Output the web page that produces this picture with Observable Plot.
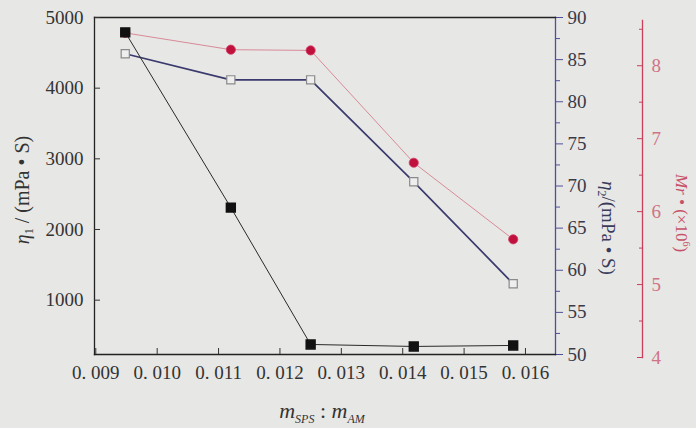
<!DOCTYPE html>
<html>
<head>
<meta charset="utf-8">
<script src="https://cdn.jsdelivr.net/npm/d3@7"></script>
<script src="https://cdn.jsdelivr.net/npm/@observablehq/plot@0.6"></script>
<style>
  html, body { margin: 0; padding: 0; background: #e7e7e5; }
  #wrap { position: relative; width: 696px; height: 428px; background: #e7e7e5; overflow: hidden; }
  #wrap svg { position: absolute; left: 0; top: 0; }
  #wrap svg, #wrap svg text, #wrap svg g { font-family: "Liberation Serif", "Times New Roman", "DejaVu Serif", serif !important; }
</style>
</head>
<body>
<div id="wrap"></div>
<script>
// ---- data ----
const ratio = [0.00948, 0.0112, 0.0125, 0.01418, 0.0158];          // m_SPS : m_AM
const eta1  = [4790, 2310, 373, 345, 359];                          // η1 (mPa·S)
const eta2  = [85.7, 82.6, 82.6, 70.5, 58.4];                       // η2 (mPa·S)
const mr    = [8.45, 8.22, 8.21, 6.67, 5.62];                       // Mr (×10^6)

const xTicks    = [0.009, 0.010, 0.011, 0.012, 0.013, 0.014, 0.015, 0.016];
const eta1Ticks = [1000, 2000, 3000, 4000, 5000];
const eta2Ticks = [50, 55, 60, 65, 70, 75, 80, 85, 90];
const eta2Minor = [52.5, 57.5, 62.5, 67.5, 72.5, 77.5, 82.5, 87.5];
const mrTicks   = [4, 5, 6, 7, 8];
const mrMinor   = [4.5, 5.5, 6.5, 7.5, 8.5];

const rows = ratio.map((r, i) => ({ratio: r, eta1: eta1[i], eta2: eta2[i], mr: mr[i]}));

const W = 696, H = 428;
const serif = "'Liberation Serif', 'Times New Roman', 'DejaVu Serif', serif";
const common = {
  width: W, height: H,
  marginLeft: 94, marginRight: 141, marginTop: 17, marginBottom: 74,
  style: {background: "transparent", fontFamily: serif, fontSize: "19px", color: "#333"}
};
const xDomain = [0.008979, 0.016489];

// ---- Mr layer (bottom) ----
const pC = Plot.plot({
  ...common,
  x: {domain: xDomain, axis: null},
  y: {domain: [4, 8.62], axis: null},
  marks: [
    Plot.frame({anchor: "right", dx: 87, stroke: "#c8405c", strokeWidth: 1.3}),
    Plot.axisY(mrTicks, {anchor: "right", dx: 87, tickSize: -6, tickPadding: 15, fontFamily: serif, tickFormat: d => String(d), color: "#cf7386", stroke: "#c8405c", label: null}),
    Plot.axisY(mrMinor, {anchor: "right", dx: 87, tickSize: -4, tickFormat: () => "", stroke: "#c8405c", label: null}),
    Plot.line(rows, {x: "ratio", y: "mr", stroke: "#d98a98", strokeWidth: 1}),
    Plot.dot(rows, {x: "ratio", y: "mr", r: 4.6, fill: "#c0103c", stroke: "#d0406a", strokeWidth: 0.8})
  ]
});
pC.style.top = "3px";

// ---- η2 layer ----
const pB = Plot.plot({
  ...common,
  x: {domain: xDomain, axis: null},
  y: {domain: [50, 90], axis: null},
  marks: [
    Plot.frame({anchor: "right", stroke: "#50509a", strokeWidth: 1.3}),
    Plot.axisY(eta2Ticks, {anchor: "right", tickSize: 7, tickPadding: 5, fontFamily: serif, tickFormat: d => String(d), color: "#3a3a48", stroke: "#50509a", label: null}),
    Plot.axisY(eta2Minor, {anchor: "right", tickSize: 4, tickFormat: () => "", stroke: "#50509a", label: null}),
    Plot.line(rows, {x: "ratio", y: "eta2", stroke: "#3a3a6e", strokeWidth: 1.7}),
    Plot.dot(rows, {x: "ratio", y: "eta2", symbol: "square", r: 4.6, fill: "#eeeeee", stroke: "#8a8a8a", strokeWidth: 1.2})
  ]
});

// ---- η1 layer (top) ----
const pA = Plot.plot({
  ...common,
  x: {domain: xDomain},
  y: {domain: [231, 5000]},
  marks: [
    Plot.frame({anchor: "top", stroke: "#222", strokeWidth: 1.3}),
    Plot.frame({anchor: "left", stroke: "#222", strokeWidth: 1.3}),
    Plot.frame({anchor: "bottom", stroke: "#222", strokeWidth: 1.3}),
    Plot.axisX(xTicks, {anchor: "bottom", tickSize: -6, tickPadding: 17, fontFamily: serif, tickFormat: d => d3.format(".3f")(d).replace(".", ". "), color: "#333", label: null}),
    Plot.axisY(eta1Ticks, {anchor: "left", tickSize: -6, tickPadding: 17, fontFamily: serif, tickFormat: d => String(d), color: "#333", label: null}),
    Plot.line(rows, {x: "ratio", y: "eta1", stroke: "#2a2a2a", strokeWidth: 1}),
    Plot.dot(rows, {x: "ratio", y: "eta1", symbol: "square", r: 5, fill: "#111", stroke: "#111"})
  ]
});

const wrap = document.getElementById("wrap");
wrap.appendChild(pC);
wrap.appendChild(pB);
wrap.appendChild(pA);

// ---- axis titles as real text ----
const svg = d3.select(pA);

// left: η1 / (mPa • S)
const t1 = svg.append("text").attr("transform", "translate(29,190) rotate(-90)")
  .attr("text-anchor", "middle").attr("font-size", 20).attr("fill", "#333");
t1.append("tspan").attr("font-style", "italic").text("η");
t1.append("tspan").attr("font-size", 12).attr("dy", 4).text("1");
t1.append("tspan").attr("dy", -4).text(" / (mPa • S)");

// right: η2/(mPa • S)
const t2 = svg.append("text").attr("transform", "translate(602,228) rotate(90)")
  .attr("text-anchor", "middle").attr("font-size", 19).attr("fill", "#3a3a5a");
t2.append("tspan").attr("font-style", "italic").text("η");
t2.append("tspan").attr("font-size", 12).attr("dy", 4).text("2");
t2.append("tspan").attr("dy", -4).text("/(mPa • S)");

// far right: Mr • (×10^6)
const t3 = svg.append("text").attr("transform", "translate(676,213) rotate(90)")
  .attr("text-anchor", "middle").attr("font-size", 17).attr("fill", "#c85068");
t3.append("tspan").attr("font-style", "italic").text("Mr");
t3.append("tspan").text(" • (×10");
t3.append("tspan").attr("font-size", 10).attr("dy", -7).text("6");
t3.append("tspan").attr("dy", 7).text(")");

// bottom: m_SPS : m_AM
const t4 = svg.append("text").attr("x", 322).attr("y", 418)
  .attr("text-anchor", "middle").attr("font-size", 22).attr("fill", "#333");
t4.append("tspan").attr("font-style", "italic").text("m");
t4.append("tspan").attr("font-style", "italic").attr("font-size", 12).attr("dy", 5).text("SPS");
t4.append("tspan").attr("dy", -5).text(" : ");
t4.append("tspan").attr("font-style", "italic").text("m");
t4.append("tspan").attr("font-style", "italic").attr("font-size", 12).attr("dy", 5).text("AM");
</script>
</body>
</html>
